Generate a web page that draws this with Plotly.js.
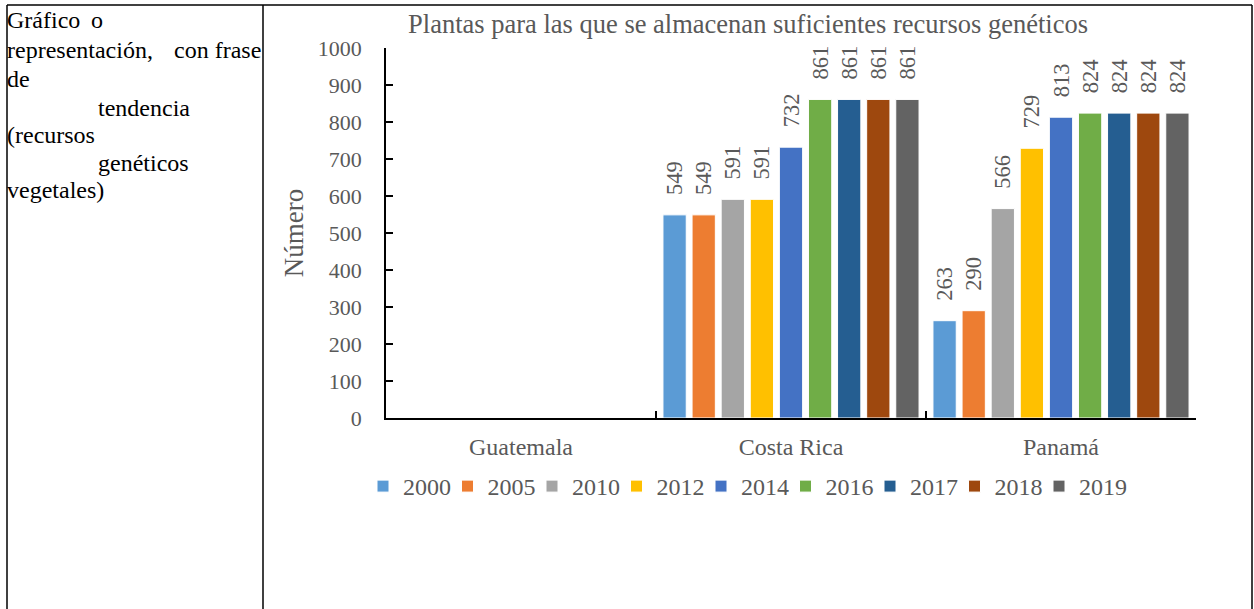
<!DOCTYPE html>
<html>
<head>
<meta charset="utf-8">
<script src="https://cdn.plot.ly/plotly-3.0.1.min.js"></script>
<style>
html,body{margin:0;padding:0;background:#fff;}
#chart{width:1254px;height:609px;}
</style>
</head>
<body>
<div id="chart"></div>
<script>
// ---- data ----
const countries = ["Guatemala", "Costa Rica", "Panamá"];
const years = ["2000", "2005", "2010", "2012", "2014", "2016", "2017", "2018", "2019"];
const v2000 = [null, 549, 263];
const v2005 = [null, 549, 290];
const v2010 = [null, 591, 566];
const v2012 = [null, 591, 729];
const v2014 = [null, 732, 813];
const v2016 = [null, 861, 824];
const v2017 = [null, 861, 824];
const v2018 = [null, 861, 824];
const v2019 = [null, 861, 824];
const yTicks = [0, 100, 200, 300, 400, 500, 600, 700, 800, 900, 1000];
const chartTitle = "Plantas para las que se almacenan suficientes recursos genéticos";
const yTitle = "Número";

const series = [v2000, v2005, v2010, v2012, v2014, v2016, v2017, v2018, v2019];
const colors = ["#5B9BD5", "#ED7D31", "#A5A5A5", "#FFC000", "#4472C4", "#70AD47", "#255E91", "#9E480E", "#636363"];

const FONT = "Liberation Serif";
const GREY = "#595959";
const PADTXT = "\u00a0\u00a0\u00a0";

const traces = series.map((vals, i) => ({
  type: "bar",
  name: years[i],
  x: countries,
  y: vals,
  marker: {color: colors[i], line: {color: "#ffffff", width: 1}},
  text: vals.map(v => v == null ? "" : PADTXT + String(v)),
  textposition: "outside",
  textangle: -90,
  constraintext: "none",
  cliponaxis: false,
  textfont: {family: FONT, size: 22.5, color: GREY},
  hoverinfo: "x+y+name"
}));

// pixel helpers (plot area: x 386..1196, y 48..418)
const L = 386, R = 1196, T = 48, B = 418;
const px = x => (x - L) / (R - L);
const py = y => (B - y) / (B - T);

const lineStyle = {color: "#000", width: 1.5};
const shapes = [
  {type: "line", xref: "paper", yref: "paper", x0: px(7), x1: px(1252), y0: py(5), y1: py(5), line: lineStyle},
  {type: "line", xref: "paper", yref: "paper", x0: px(7), x1: px(7), y0: py(5), y1: py(609), line: lineStyle},
  {type: "line", xref: "paper", yref: "paper", x0: px(263), x1: px(263), y0: py(5), y1: py(609), line: lineStyle},
  {type: "line", xref: "paper", yref: "paper", x0: px(1252), x1: px(1252), y0: py(5), y1: py(609), line: lineStyle}
];

const leftFont = {family: FONT, size: 24, color: "#000"};
function leftText(text, x, y, anchor) {
  return {xref: "paper", yref: "paper", x: px(x), y: py(y), text: text, showarrow: false,
          xanchor: anchor || "left", yanchor: "middle", font: leftFont, borderpad: 0};
}
const annotations = [
  leftText("Gráfico", 6, 20),
  leftText("o", 90, 20),
  leftText("representación,", 6, 50),
  leftText("con frase", 262, 50, "right"),
  leftText("de", 6, 79),
  leftText("tendencia", 97, 108),
  leftText("(recursos", 6, 135),
  leftText("genéticos", 97, 163),
  leftText("vegetales)", 6, 190)
];

const layout = {
  width: 1254, height: 609,
  margin: {l: L, r: 1254 - R, t: T, b: 609 - B, pad: 0},
  paper_bgcolor: "#fff", plot_bgcolor: "#fff",
  font: {family: FONT, color: GREY, size: 22},
  title: {text: chartTitle, xref: "container", x: 748 / 1254, xanchor: "center",
          yref: "container", y: 1 - 24 / 609, yanchor: "middle",
          font: {family: FONT, size: 26.5, color: GREY}},
  barmode: "group",
  bargap: 0.03,
  bargroupgap: 0.2,
  showlegend: true,
  legend: {orientation: "h", x: px(363), y: py(464), xanchor: "left", yanchor: "top",
           bgcolor: "rgba(0,0,0,0)",
           font: {family: FONT, size: 24, color: GREY}, entrywidth: 39.5, entrywidthmode: "pixels",
           traceorder: "normal", itemclick: false},
  xaxis: {type: "category", showline: true, linecolor: "#000", linewidth: 1.5,
          ticks: "", showgrid: false, tickfont: {family: FONT, size: 24, color: GREY},
          ticklabelstandoff: 6, fixedrange: true},
  yaxis: {range: [0, 1000], tickvals: yTicks, showline: true, linecolor: "#000", linewidth: 1.5,
          ticks: "inside", ticklen: 7, tickcolor: "#000", tickwidth: 1.5, showgrid: false, zeroline: false,
          tickfont: {family: FONT, size: 22, color: GREY}, ticklabelstandoff: 18,
          title: {text: yTitle, font: {family: FONT, size: 27, color: GREY}, standoff: 6}, fixedrange: true},
  shapes: shapes,
  annotations: annotations
};

// category boundary tick marks on x axis (between categories), drawn via an overlaid axis
layout.xaxis2 = {overlaying: "x", range: [-0.5, 2.5], tickvals: [-0.5, 0.5, 1.5, 2.5], ticks: "inside",
                 ticklen: 7, tickcolor: "#000", tickwidth: 1.5, showticklabels: false, showgrid: false,
                 zeroline: false, showline: false, anchor: "y", fixedrange: true};
traces.push({type: "scatter", x: [-0.5, 2.5], y: [null, null], xaxis: "x2", showlegend: false, hoverinfo: "skip"});

Plotly.newPlot("chart", traces, layout, {displayModeBar: false}).then(gd => {
  // let the last legend label extend beyond the fixed entry width
  gd.querySelectorAll(".legend [clip-path]").forEach(el => el.removeAttribute("clip-path"));
});
</script>
</body>
</html>
